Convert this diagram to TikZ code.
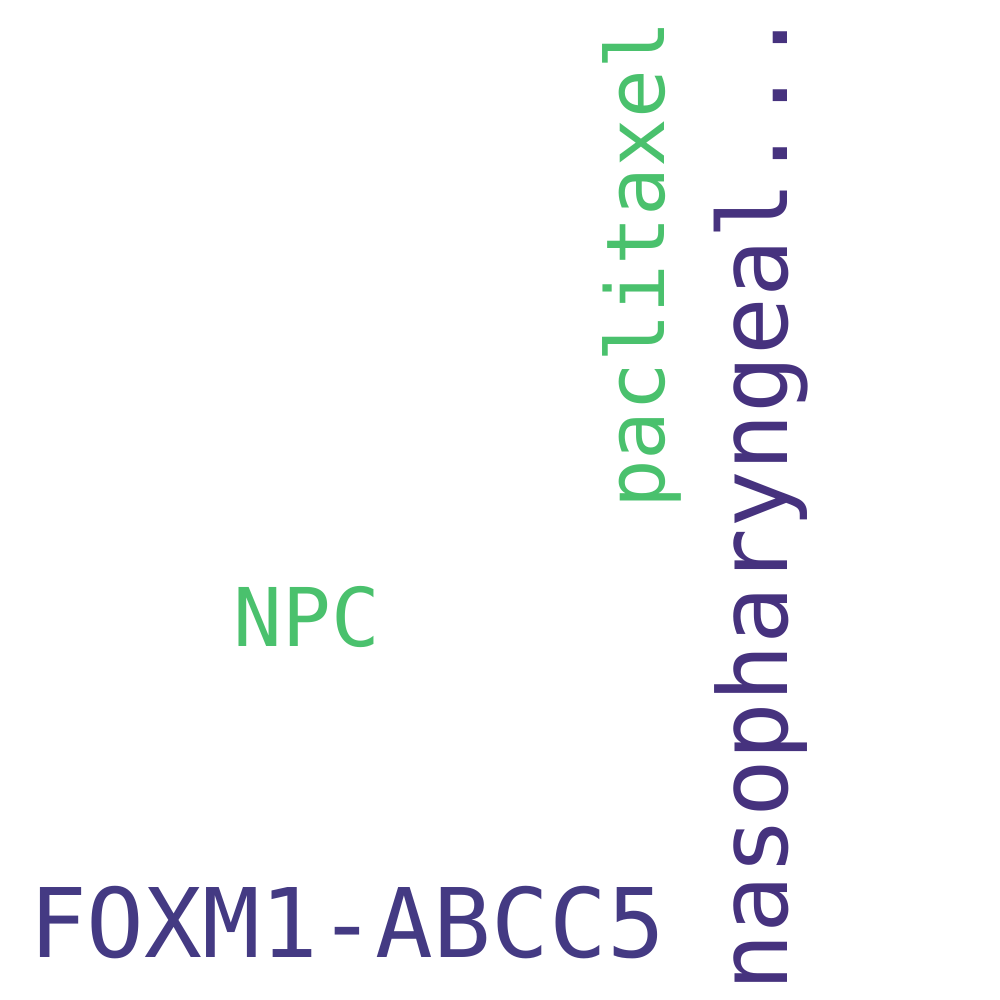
\documentclass[tikz,border=0pt]{standalone}
\usepackage{fontspec}
\setmonofont{DejaVu Sans Mono}
\usepackage{tikz}
\definecolor{PurpleDefault}{HTML}{443A83}
\definecolor{PurpleDark}{HTML}{46327E}
\definecolor{GreenDefault}{HTML}{4AC16D}
\tikzset{
    word/.style={inner sep=0pt, outer sep=0pt, font=\ttfamily},
}

\begin{document}
\begin{tikzpicture}[x=1pt, y=-1pt]
    %%Background
    \useasboundingbox (0,0) rectangle (1000,1000);
    \fill[white] (0,0) rectangle (1000,1000);
    %%Horizontal words
    \node[word, anchor=base, text=PurpleDefault, font=\ttfamily\fontsize{96}{100}\selectfont] (foxm) at (347,957) {FOXM1-ABCC5};
    \node[word, anchor=base, text=GreenDefault, font=\ttfamily\fontsize{81}{85}\selectfont] (npc) at (307,646) {NPC};
    %%Vertical words
    \node[word, anchor=base, rotate=90, text=GreenDefault, font=\ttfamily\fontsize{81}{85}\selectfont] (pacli) at (664,265) {paclitaxel};
    \node[word, anchor=base, rotate=90, text=PurpleDark, font=\ttfamily\fontsize{96}{100}\selectfont] (naso) at (787,500) {nasopharyngeal...};
\end{tikzpicture}
\end{document}
